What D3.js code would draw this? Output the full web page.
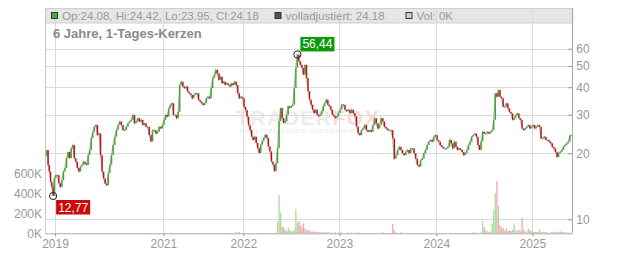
<!DOCTYPE html>
<html>
<head>
<meta charset="utf-8">
<script src="https://cdn.jsdelivr.net/npm/d3@7"></script>
<style>
  body { margin: 0; background: #fff; }
  svg { display: block; font-family: "Liberation Sans", Arial, sans-serif; }
  .axis text { fill: #999; font-size: 12px; }
  .axis line { stroke: #999; }
</style>
</head>
<body>
<div id="chart"></div>
<script>
// closing prices, one array per calendar year
const closes2018 = [19.6, 20.7, 17.7, 16.5, 14.8, 14.05, 12.77, 15.4];
const closes2019 = [15.9, 15.9, 14.6, 14.05, 15.1, 16.5, 17.15, 19.0, 20.3, 19.0, 21.05, 21.8, 19.0, 18.3, 17.15, 16.5, 17.4, 17.7, 18.3, 17.95, 17.7, 19.6, 20.7, 23.4, 25.05, 26.4, 26.9, 24.2, 24.6, 19.6, 16.5, 15.35, 14.55, 14.3, 16.2];
const closes2020 = [17.7, 19.6, 21.8, 23.8, 25.5, 26.9, 27.9, 26.9, 25.5, 25.5, 26.4, 27.4, 27.9, 28.4, 29.9, 27.4, 27.9, 28.9, 27.9, 28.4, 26.9, 27.4, 26.4, 26.4, 24.2, 22.6, 25.5, 25.5, 24.6, 25.05, 26.4, 25.95, 26.9];
const closes2021 = [28.4, 29.9, 29.4, 32.05, 33.2, 33.8, 29.9, 29.9, 28.9, 30.9, 41.0, 42.4, 40.3, 39.6, 40.3, 38.2, 37.55, 36.9, 35.6, 36.9, 37.55, 37.55, 35.0, 34.4, 33.8, 33.2, 33.8, 35.6, 36.2, 35.6, 39.6, 44.0, 45.5, 48.0, 46.3, 43.2, 44.7, 41.7, 42.4, 41.0, 41.7, 41.0, 40.3, 41.7, 41.0, 42.4, 41.0, 37.55, 35.6, 36.2, 35.6];
const closes2022 = [32.6, 31.5, 29.4, 26.9, 25.5, 23.8, 23.0, 23.8, 22.3, 21.1, 20.05, 21.9, 22.7, 23.5, 24.3, 23.5, 21.5, 20.4, 18.35, 17.75, 16.55, 18.0, 21.1, 28.0, 32.2, 28.95, 27.5, 28.0, 30.0, 32.75, 32.2, 32.75, 33.3, 39.7, 49.0, 56.44, 52.6, 50.65, 49.0, 45.6, 50.65, 44.1, 38.4, 35.1, 33.3, 31.6, 30.5, 31.6, 30.0, 29.5, 30.0, 31.1, 32.75, 33.9, 35.1, 33.3, 32.75, 31.6, 30.0, 29.5, 28.95, 29.5, 30.5];
const closes2023 = [31.6, 33.3, 33.3, 31.6, 31.1, 31.6, 30.5, 31.6, 30.5, 29.5, 26.5, 24.7, 24.2, 25.5, 25.95, 26.9, 25.5, 25.05, 25.5, 25.05, 26.9, 28.9, 27.4, 25.95, 26.9, 28.9, 27.9, 26.4, 25.95, 25.5, 25.5, 25.5, 23.4, 18.9, 19.6, 20.7, 21.4, 20.7, 20.0, 19.6, 20.3, 20.7, 20.0, 21.05, 21.05, 20.0, 18.9, 17.7, 17.4, 18.6, 18.9, 20.0, 20.7, 21.8, 22.6, 23.0, 22.6, 23.8, 24.2];
const closes2024 = [23.0, 22.6, 21.8, 21.4, 21.05, 21.05, 21.05, 21.4, 23.0, 22.2, 21.05, 22.6, 21.4, 20.7, 21.05, 20.7, 20.3, 19.6, 20.0, 20.7, 21.8, 22.6, 23.8, 24.2, 24.6, 23.8, 21.8, 20.7, 22.6, 25.05, 24.6, 24.6, 25.05, 24.6, 25.05, 25.5, 28.4, 37.55, 36.2, 38.9, 36.2, 35.6, 32.6, 32.6, 33.8, 32.05, 30.9, 30.4, 28.4, 28.9, 29.9, 30.4, 28.9, 28.4, 25.95, 25.5, 25.95, 26.4, 26.9, 25.95, 26.4];
const closes2025 = [26.9, 25.95, 26.4, 26.9, 26.4, 23.4, 23.4, 23.8, 23.0, 23.0, 22.6, 22.2, 21.4, 21.05, 20.3, 19.25, 20.0, 20.3, 20.7, 21.4, 21.8, 22.2, 22.6, 24.08, 24.18];

// volume in thousands, aligned with the closes of the same year
const volumes2021 = [0,0,0,0,0,0,0,0,0,0, 0,0,0,0,0,0,0,0,0,0, 0,0,0,0,0,0,0,0,0,0, 0,0,0,0,0,0,0,0,0,0, 0,0,0,0,0,0,12,0,14,0, 0];
const volumes2022 = [0,0,0,0,0,0,0,0,0,0, 0,0,0,0,0,0,0,0,0,0, 0,0,117,383,206,66,60,35,26,60, 30,20,25,35,240,106,123,83,57,100, 50,30,36,20,18,15,20,15,12,12, 10,12,10,10,10,8,10,0,8,0, 10,0,7];
const volumes2023 = [7,10,0,0,0,10,0,10,0,0, 0,10,0,0,0,0,0,0,0,0, 0,0,0,0,0,0,10,0,0,0, 0,0,93,30,10,0,0,10,0,0, 0,0,0,0,0,0,0,0,0,0, 0,0,0,0,0,0,0,0,0];
const volumes2024 = [0,0,0,0,0,0,0,0,0,0, 0,0,0,0,0,0,0,0,0,0, 0,0,0,10,0,10,0,0,10,123, 60,30,20,13,20,100,233,400,523,273, 83,50,57,30,50,23,30,23,36,100, 30,23,36,20,156,36,13,20,50,30, 20];
const volumes2025 = [16,13,13,13,36,13,13,13,10,10, 0,10,10,10,13,16,13,20,13,13, 10,10,8,8,0];

const yearBounds = ["2018-10-25", "2019-01-01", "2020-01-01", "2021-01-01", "2022-01-01", "2023-01-01", "2024-01-01", "2025-01-01", "2025-06-01"];
const yearTicks = ["2019-01-01", "2021-01-01", "2022-01-01", "2023-01-01", "2024-01-01", "2025-01-01"];
const priceTicks = [10, 20, 30, 40, 50, 60];
const volumeTicks = [0, 200, 400, 600];
const lastCandle = { op: 24.08, hi: 24.42, lo: 23.95, cl: 24.18, adj: 24.18, vol: 0 };
const title = "6 Jahre, 1-Tages-Kerzen";

const width = 632;
const height = 253;
const plotLeft = 45, plotRight = 572.3, plotTop = 8, plotBottom = 233.3;

const parse = d3.utcParse("%Y-%m-%d");

const closesByYear = [closes2018, closes2019, closes2020, closes2021, closes2022, closes2023, closes2024, closes2025];
const volumesByYear = [null, null, null, volumes2021, volumes2022, volumes2023, volumes2024, volumes2025];

const candles = [];
closesByYear.forEach((closes, k) => {
  const t0 = parse(yearBounds[k]), t1 = parse(yearBounds[k + 1]);
  const step = (t1 - t0) / closes.length;
  closes.forEach((c, i) => {
    candles.push({
      date: new Date(+t0 + (i + 0.5) * step),
      close: c,
      volume: volumesByYear[k] ? volumesByYear[k][i] : 0
    });
  });
});
candles.forEach((d, i) => (d.open = i ? candles[i - 1].close : d.close));

// the time axis is not linear: the older years are squeezed
const x = d3.scaleUtc()
  .domain(["2018-10-25", "2019-01-01", "2021-01-01", "2022-01-01", "2023-01-01", "2024-01-01", "2025-01-01", "2025-06-01"].map(parse))
  .range([plotLeft, 55, 163.3, 243.3, 339.3, 436.3, 532.3, plotRight]);

const y = d3.scaleLog().domain([10, 60]).range([219.3, 48.6]);
const yVol = d3.scaleLinear().domain([0, 600]).range([plotBottom, 173.3]);

const svg = d3.select("#chart").append("svg")
  .attr("width", width)
  .attr("height", height);

// watermark
const wm = svg.append("g");
wm.append("text")
  .attr("x", 236).attr("y", 125)
  .style("font-size", "21px").style("font-weight", "bold").style("letter-spacing", "1.5px")
  .call(t => {
    t.append("tspan").attr("fill", "#ebebeb").text("TRADER");
    t.append("tspan").attr("fill", "#f9d9d9").text("FOX");
  });
wm.append("text")
  .attr("x", 240).attr("y", 133)
  .attr("fill", "#ececec")
  .style("font-size", "6px").style("font-weight", "bold").style("letter-spacing", "1px")
  .text("REALTIME STOCK SCREENING");

// header band
svg.append("rect")
  .attr("x", plotLeft + 0.5).attr("y", plotTop + 0.5)
  .attr("width", plotRight - plotLeft).attr("height", 14.5)
  .attr("fill", "#e6e6e6").attr("stroke", "#cfcfcf");

// grid
const grid = svg.append("g").attr("stroke", "#dadada").attr("shape-rendering", "crispEdges");
grid.selectAll(".hg").data(priceTicks).join("line").attr("class", "hg")
  .attr("x1", plotLeft).attr("x2", plotRight)
  .attr("y1", d => Math.round(y(d)) + 0.5).attr("y2", d => Math.round(y(d)) + 0.5);
grid.selectAll(".vg").data(yearTicks.map(parse)).join("line").attr("class", "vg")
  .attr("x1", d => Math.round(x(d)) + 0.5).attr("x2", d => Math.round(x(d)) + 0.5)
  .attr("y1", plotTop).attr("y2", plotBottom);

// frame
svg.append("line").attr("x1", plotLeft + 0.5).attr("x2", plotLeft + 0.5).attr("y1", plotTop).attr("y2", plotBottom)
  .attr("stroke", "#c8c8c8").attr("shape-rendering", "crispEdges");

// volume bars
const upVol = "#a9dca2", downVol = "#f2a6ae";
svg.append("g").selectAll("rect").data(candles.filter(d => d.volume > 0)).join("rect")
  .attr("x", d => x(d.date) - 0.65)
  .attr("width", 1.3)
  .attr("y", d => yVol(d.volume))
  .attr("height", d => plotBottom - yVol(d.volume))
  .attr("fill", d => (d.close >= d.open ? upVol : downVol));

// close line under the candles
const line = d3.line().x(d => x(d.date)).y(d => y(d.close));
svg.append("path").datum(candles)
  .attr("d", line)
  .attr("fill", "none")
  .attr("stroke", "#b0b0b0")
  .attr("stroke-width", 1.3);

// candle bodies
const upCol = "#3fa92f", downCol = "#c3111b";
svg.append("g").selectAll("rect").data(candles).join("rect")
  .attr("x", d => x(d.date) - 0.7)
  .attr("width", 1.4)
  .attr("y", d => Math.min(y(d.open), y(d.close)))
  .attr("height", d => Math.max(1, Math.abs(y(d.open) - y(d.close))))
  .attr("fill", d => (d.close >= d.open ? upCol : downCol));

// axes
const xAxis = svg.append("g").attr("class", "axis")
  .attr("transform", `translate(0,${plotBottom})`)
  .call(d3.axisBottom(x).tickValues(yearTicks.map(parse)).tickFormat(d3.utcFormat("%Y")).tickSizeInner(3).tickSizeOuter(0).tickPadding(3));
xAxis.select(".domain").attr("stroke", "#aaa");

const yAxis = svg.append("g").attr("class", "axis")
  .attr("transform", `translate(${plotRight},0)`)
  .call(d3.axisRight(y).tickValues(priceTicks).tickFormat(d3.format("d")).tickSizeInner(-4).tickSizeOuter(0).tickPadding(4));
yAxis.select(".domain").remove();
svg.append("line").attr("x1", plotRight).attr("x2", plotRight).attr("y1", plotTop).attr("y2", plotBottom)
  .attr("stroke", "#aaa").attr("shape-rendering", "crispEdges");

const vAxis = svg.append("g").attr("class", "axis")
  .attr("transform", `translate(${plotLeft},0)`)
  .call(d3.axisLeft(yVol).tickValues(volumeTicks).tickFormat(d => d + "K").tickSize(0).tickPadding(3));
vAxis.select(".domain").remove();

// extreme markers
const fmt = v => d3.format(".2f")(v).replace(".", ",");
const hi = candles.reduce((a, b) => (b.close > a.close ? b : a));
const lo = candles.reduce((a, b) => (b.close < a.close ? b : a));

function marker(d, fill, above) {
  const cx = x(d.date), cy = y(d.close);
  svg.append("circle").attr("cx", cx).attr("cy", cy).attr("r", 3.6)
    .attr("fill", "none").attr("stroke", "#222").attr("stroke-width", 1);
  const g = svg.append("g");
  const t = g.append("text").attr("fill", "#fff").style("font-size", "12px").text(fmt(d.close));
  const w = t.node().getComputedTextLength() + 4;
  const bx = cx + 3, by = above ? cy - 3 - 14.5 : cy + 4;
  g.insert("rect", "text").attr("x", bx).attr("y", by).attr("width", w).attr("height", 14.5).attr("fill", fill);
  t.attr("x", bx + 2).attr("y", by + 11.5);
}
marker(hi, "#0a9a0a", true);
marker(lo, "#cc0a0a", false);

// header legend
const legend = svg.append("g").style("font-size", "11.5px").attr("fill", "#999");
const items = [
  { x: 51, fill: "#3cb034", text: `Op:${lastCandle.op}, Hi:${lastCandle.hi}, Lo:${lastCandle.lo}, Cl:${lastCandle.cl}` },
  { x: 274.5, fill: "#555", text: `volladjustiert: ${lastCandle.adj}` },
  { x: 405.5, fill: "#b4e0b0", text: `Vol: ${lastCandle.vol}K` }
];
items.forEach(it => {
  legend.append("rect").attr("x", it.x + 0.5).attr("y", 12.5).attr("width", 6).attr("height", 6)
    .attr("fill", it.fill).attr("stroke", "#333");
  legend.append("text").attr("x", it.x + 11).attr("y", 19.5).text(it.text);
});

svg.append("text")
  .attr("x", 53).attr("y", 38)
  .attr("fill", "#8a8a8a")
  .style("font-size", "13px").style("font-weight", "bold")
  .text(title);
</script>
</body>
</html>
